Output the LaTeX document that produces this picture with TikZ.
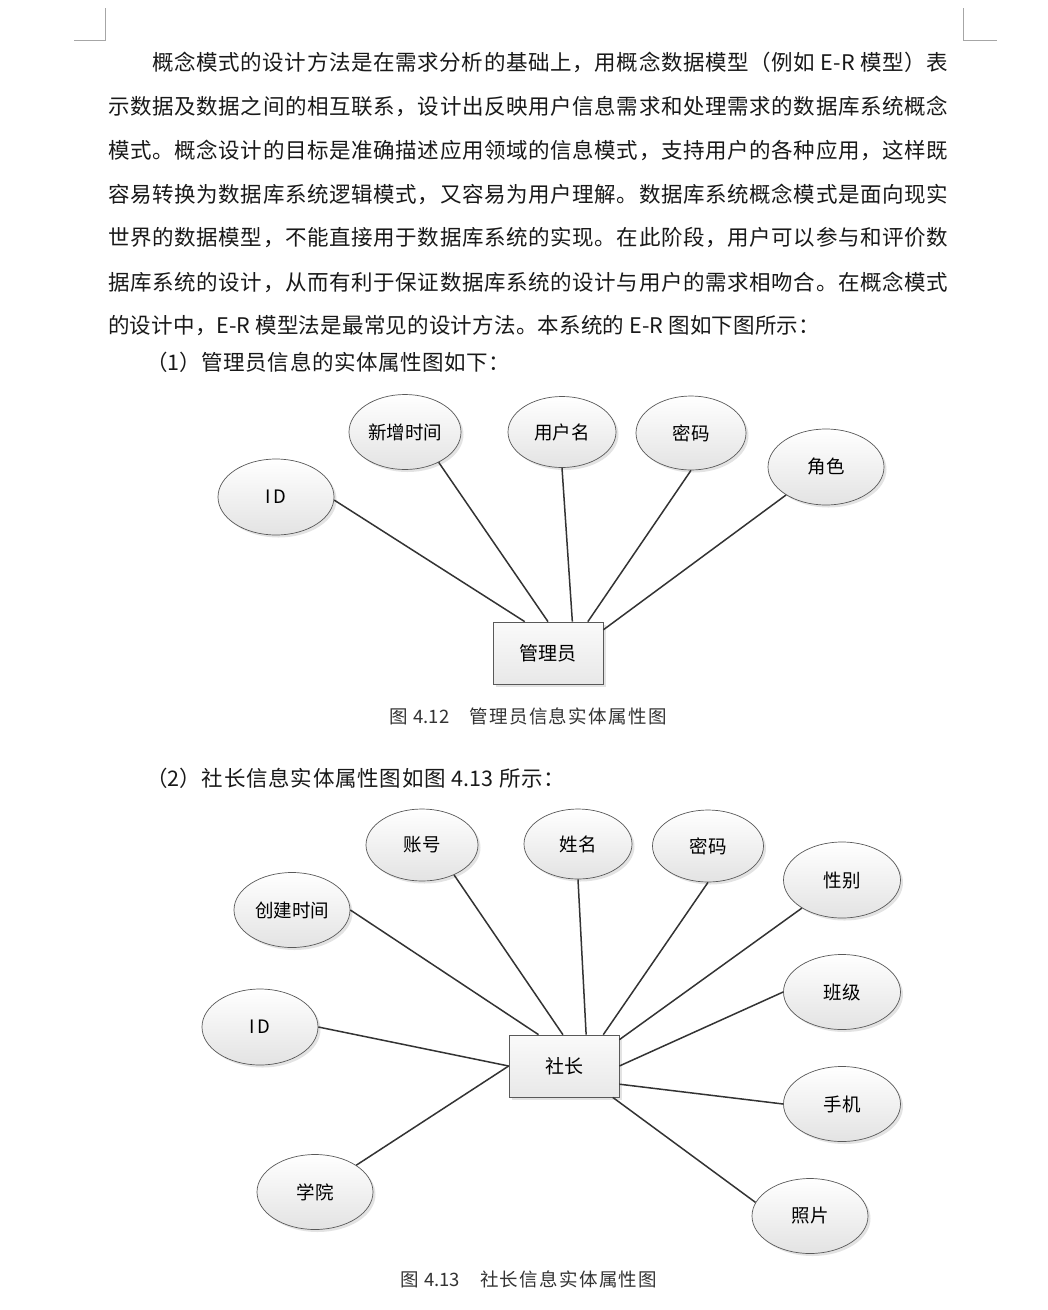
\documentclass[tikz,border=0pt]{standalone}
\usepackage{fontspec}
\newfontfamily\cjk{Noto Sans CJK SC}
\usetikzlibrary{shapes.geometric,shadows,calc}
\XeTeXinterchartokenstate=1
\newXeTeXintercharclass\CJKcls
\count255="3000
\loop\XeTeXcharclass\count255=\CJKcls\relax\ifnum\count255<"9FFF\advance\count255 by 1\repeat
\count255="FF00
\loop\XeTeXcharclass\count255=\CJKcls\relax\ifnum\count255<"FFEF\advance\count255 by 1\repeat
\XeTeXinterchartoks\CJKcls\CJKcls={\hskip0pt plus 2pt\relax}
\begin{document}
\begin{tikzpicture}[x=1pt,y=-1pt,
  bodyline/.style={anchor=west,inner sep=0pt,font=\cjk\fontsize{21.5}{24}\selectfont,text=black!90},
  capline/.style={anchor=west,inner sep=0pt,font=\cjk\fontsize{18.5}{22}\selectfont,text=black!80},
  attr/.style={ellipse,draw=black!65,line width=0.7pt,top color=white,bottom color=black!11,
    drop shadow={shadow xshift=2.5pt,shadow yshift=-2.5pt,opacity=0.22},
    inner sep=0pt,font=\cjk\fontsize{18.5}{20}\selectfont},
  ent/.style={rectangle,draw=black!65,line width=0.7pt,top color=black!2,bottom color=black!9,
    drop shadow={shadow xshift=2.5pt,shadow yshift=-2.5pt,opacity=0.22},
    minimum width=110pt,minimum height=62pt,inner sep=0pt,font=\cjk\fontsize{19}{20}\selectfont},
  link/.style={draw=black!80,line width=1.5pt},
  cornermark/.style={draw=black!35,line width=0.7pt}]
\fill[white] (0,0) rectangle (1048,1310);
\useasboundingbox (0,0) rectangle (1048,1310);
% corner marks
\draw[cornermark] (105,8) -- (105,40) -- (74,40);
\draw[cornermark] (963,8) -- (963,40) -- (997,40);
% body text
\node[bodyline] (t1) at (152,62) {\hbox to 796pt{概念模式的设计方法是在需求分析的基础上，用概念数据模型（例如 E-R 模型）表}};
\node[bodyline] (t2) at (108,106) {\hbox to 840pt{示数据及数据之间的相互联系，设计出反映用户信息需求和处理需求的数据库系统概念}};
\node[bodyline] (t3) at (108,150) {\hbox to 840pt{模式。概念设计的目标是准确描述应用领域的信息模式，支持用户的各种应用，这样既}};
\node[bodyline] (t4) at (108,194) {\hbox to 840pt{容易转换为数据库系统逻辑模式，又容易为用户理解。数据库系统概念模式是面向现实}};
\node[bodyline] (t5) at (108,238) {\hbox to 840pt{世界的数据模型，不能直接用于数据库系统的实现。在此阶段，用户可以参与和评价数}};
\node[bodyline] (t6) at (108,282) {\hbox to 840pt{据库系统的设计，从而有利于保证数据库系统的设计与用户的需求相吻合。在概念模式}};
\node[bodyline] (t7) at (108,326) {\hbox to 712pt{的设计中，E-R 模型法是最常见的设计方法。本系统的 E-R 图如下图所示：}};
\node[bodyline] (h1) at (146,362) {\hbox to 364pt{（1）管理员信息的实体属性图如下：}};
% diagram 1
\node[ent] (b1) at (548,653) {管理员};
\node[attr,minimum width=116pt,minimum height=76pt] (a1) at (276,497) {I\kern2pt D};
\node[attr,minimum width=112pt,minimum height=75pt] (a2) at (405,432) {新增时间};
\node[attr,minimum width=108pt,minimum height=71pt] (a3) at (562,432) {用户名};
\node[attr,minimum width=110pt,minimum height=74pt] (a4) at (691,433) {密码};
\node[attr,minimum width=116pt,minimum height=76pt] (a5) at (826,467) {角色};
\coordinate (p1) at ($(b1.north west)!0.29!(b1.north east)$);
\coordinate (p2) at ($(b1.north west)!0.50!(b1.north east)$);
\coordinate (p3) at ($(b1.north west)!0.72!(b1.north east)$);
\coordinate (p4) at ($(b1.north west)!0.86!(b1.north east)$);
\coordinate (p5) at ($(b1.north east)!0.13!(b1.south east)$);
\draw[link] (a1.-3) -- (p1);
\draw[link] (a2.-42) -- (p2);
\draw[link] (a3.south) -- (p3);
\draw[link] (a4.south) -- (p4);
\draw[link] (a5.-145) -- (p5);
\node[capline] (c1) at (389,716) {\hbox to 278pt{图 4.12　管理员信息实体属性图}};
% heading 2
\node[bodyline] (h2) at (146,778) {\hbox to 419pt{（2）社长信息实体属性图如图 4.13 所示：}};
% diagram 2
\node[ent] (b2) at (564,1066) {社长};
\node[attr,minimum width=112pt,minimum height=72pt] (s1) at (422,845) {账号};
\node[attr,minimum width=108pt,minimum height=70pt] (s2) at (578,844) {姓名};
\node[attr,minimum width=111pt,minimum height=72pt] (s3) at (708,846) {密码};
\node[attr,minimum width=117pt,minimum height=76pt] (s4) at (842,880) {性别};
\node[attr,minimum width=116pt,minimum height=75pt] (s5) at (292,910) {创建时间};
\node[attr,minimum width=116pt,minimum height=76pt] (s6) at (260,1027) {I\kern2pt D};
\node[attr,minimum width=117pt,minimum height=75pt] (s7) at (842,992) {班级};
\node[attr,minimum width=117pt,minimum height=75pt] (s8) at (842,1104) {手机};
\node[attr,minimum width=116pt,minimum height=75pt] (s9) at (315,1192) {学院};
\node[attr,minimum width=116pt,minimum height=75pt] (s10) at (810,1216) {照片};
\coordinate (q1) at ($(b2.north west)!0.27!(b2.north east)$);
\coordinate (q2) at ($(b2.north west)!0.49!(b2.north east)$);
\coordinate (q3) at ($(b2.north west)!0.70!(b2.north east)$);
\coordinate (q4) at ($(b2.north west)!0.855!(b2.north east)$);
\coordinate (q5) at ($(b2.north east)!0.08!(b2.south east)$);
\coordinate (q6) at ($(b2.north east)!0.79!(b2.south east)$);
\coordinate (q7) at ($(b2.south west)!0.94!(b2.south east)$);
\draw[link] (s5.east) -- (q1);
\draw[link] (s1.-43) -- (q2);
\draw[link] (s2.south) -- (q3);
\draw[link] (s3.south) -- (q4);
\draw[link] (s4.-145) -- (q5);
\draw[link] (s7.west) -- (b2.east);
\draw[link] (s8.west) -- (q6);
\draw[link] (s10.166) -- (q7);
\draw[link] (s9.33) -- (b2.west);
\draw[link] (s6.east) -- (b2.west);
\node[capline] (c2) at (400,1279) {\hbox to 257pt{图 4.13　社长信息实体属性图}};
\end{tikzpicture}
\end{document}
